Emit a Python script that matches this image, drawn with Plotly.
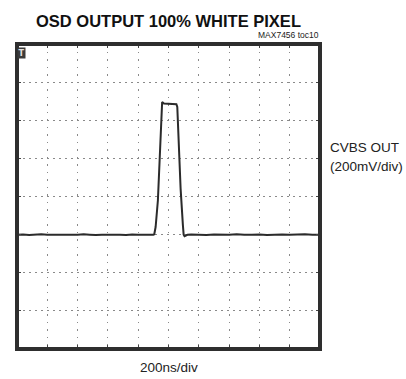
import plotly.graph_objects as go

# ---- data (time in ns, CVBS output in mV; baseline at -200 mV) ----
time_ns = [0, 40, 80, 120, 160, 200, 240, 280, 320, 360, 400, 440, 480, 520, 560, 600,
           640, 680, 720, 760, 800, 840, 880, 900, 906, 915, 930, 945, 953, 958, 970,
           1000, 1030, 1052, 1058, 1065, 1080, 1095, 1100, 1106, 1112, 1125, 1150, 1200,
           1250, 1300, 1350, 1400, 1450, 1500, 1550, 1600, 1650, 1700, 1750, 1800, 1850,
           1900, 1950, 2000]
cvbs_mv = [-201, -199, -202, -200, -198, -201, -200, -202, -199, -200, -201, -198, -200, -202,
           -200, -199, -201, -200, -202, -199, -200, -201, -199, -200, -198, -160, -20, 300, 470,
           496, 488, 486, 485, 484, 470, 300, 40, -150, -200, -208, -206, -201, -199, -200,
           -202, -199, -201, -200, -198, -201, -200, -199, -202, -200, -199, -201, -200,
           -198, -201, -200]

x_range = [0, 2000]
y_range = [-800, 800]
x_div = 200
y_div = 200

title_text = "<b>OSD OUTPUT 100% WHITE PIXEL</b>"
subtitle_text = "MAX7456 toc10"
y_label_1 = "CVBS OUT"
y_label_2 = "(200mV/div)"
x_label = "200ns/div"

font_fam = "Liberation Sans, Arial, sans-serif"

fig = go.Figure()
fig.add_trace(go.Scatter(x=time_ns, y=cvbs_mv, mode="lines",
                         line=dict(color="#2b2b2b", width=2), hoverinfo="skip"))

fig.update_xaxes(range=x_range, dtick=x_div, tick0=0, showticklabels=False,
                 showgrid=True, gridcolor="#8a8a8a", gridwidth=1, griddash="1.5px,6px",
                 zeroline=False, showline=False, ticks="inside", ticklen=4,
                 tickcolor="#444", mirror="allticks",
                 minor=dict(dtick=x_div / 5, ticks="inside", ticklen=2, tickcolor="#666"))
fig.update_yaxes(range=y_range, dtick=y_div, tick0=0, showticklabels=False,
                 showgrid=True, gridcolor="#8a8a8a", gridwidth=1, griddash="1.5px,4.5px",
                 zeroline=False, showline=False, ticks="inside", ticklen=4,
                 tickcolor="#444", mirror="allticks",
                 minor=dict(dtick=y_div / 5, ticks="inside", ticklen=2, tickcolor="#666"))

fig.add_shape(type="rect", xref="paper", yref="paper", x0=0, x1=1, y0=0, y1=1,
              line=dict(color="#2e2e2e", width=4), layer="above")

fig.add_annotation(text=title_text, xref="paper", yref="paper", x=0.5, y=1.075,
                   xanchor="center", yanchor="middle", showarrow=False,
                   font=dict(family=font_fam, size=16.5, color="#111"))
fig.add_annotation(text=subtitle_text, xref="paper", yref="paper", x=1.003, y=1.031,
                   xanchor="right", yanchor="middle", showarrow=False,
                   font=dict(family=font_fam, size=8.5, color="#222"))
fig.add_annotation(text=y_label_1, xref="paper", yref="paper", x=1.026, y=0.66,
                   xanchor="left", yanchor="middle", showarrow=False,
                   font=dict(family=font_fam, size=13.5, color="#222"))
fig.add_annotation(text=y_label_2, xref="paper", yref="paper", x=1.026, y=0.598,
                   xanchor="left", yanchor="middle", showarrow=False,
                   font=dict(family=font_fam, size=13.5, color="#222"))
fig.add_annotation(text=x_label, xref="paper", yref="paper", x=0.5, y=-0.0607,
                   xanchor="center", yanchor="middle", showarrow=False,
                   font=dict(family=font_fam, size=13.5, color="#222"))
fig.add_annotation(text="<b>T</b>", xref="paper", yref="paper", x=0.014, y=0.972,
                   xanchor="center", yanchor="middle", showarrow=False,
                   bgcolor="#3a3a3a", borderpad=0.5,
                   font=dict(family="DejaVu Sans", size=8, color="#e0e0e0"))

fig.update_layout(width=406, height=379, margin=dict(l=17, r=86, t=44, b=30),
                  paper_bgcolor="white", plot_bgcolor="white", showlegend=False)

fig.write_html("out.html")
